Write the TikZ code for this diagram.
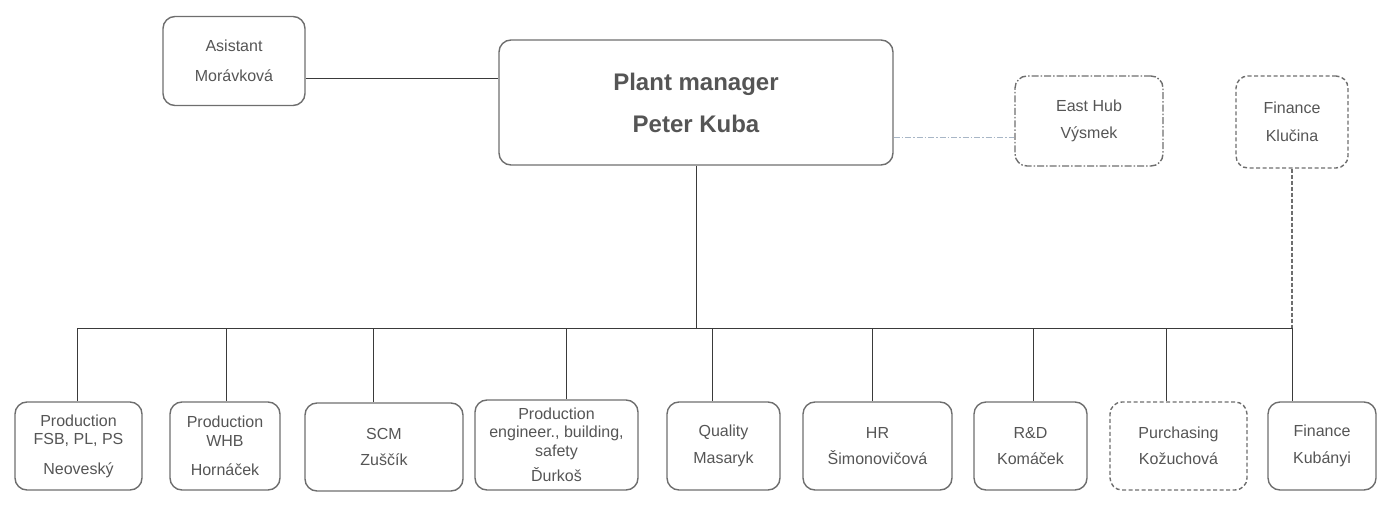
\documentclass[tikz,border=0pt]{standalone}
\usepackage{fontspec}
\setmainfont{Liberation Sans}
\usetikzlibrary{positioning}

\definecolor{boxgray}{HTML}{6E6E6E}
\definecolor{textgray}{HTML}{555555}
\definecolor{linegray}{HTML}{3A3A3A}
\definecolor{hubline}{HTML}{A8B6C6}

\begin{document}
\begin{tikzpicture}[
    x=1pt, y=-1pt,
    unit/.style={rectangle, draw=boxgray, line width=1.4pt, rounded corners=12pt,
        text=textgray, align=center, inner sep=0pt,
        font=\fontsize{16}{18.5}\selectfont},
    dashunit/.style={unit, dash pattern=on 4pt off 2.5pt},
    hubunit/.style={unit, dash pattern=on 7pt off 2pt on 1.5pt off 2pt},
    link/.style={draw=linegray, line width=1pt}
]
    \useasboundingbox (0,0) rectangle (1378,505);

    % Top level --------------------------------------------------

    \node[unit, minimum width=142pt, minimum height=89pt] (asst) at (234,61)
        {Asistant\\[11pt]Morávková};
    \node[unit, minimum width=394pt, minimum height=125pt,
        font=\fontsize{24}{28}\selectfont\bfseries] (pm) at (696,102.5)
        {Plant manager\\[14pt]Peter Kuba};
    \node[hubunit, minimum width=148pt, minimum height=90pt] (hub) at (1089,121)
        {East Hub\\[9pt]Výsmek};
    \node[dashunit, minimum width=112pt, minimum height=92pt] (fink) at (1292,122)
        {Finance\\[9pt]Klučina};

    % Departments ------------------------------------------------

    \node[unit, minimum width=127pt, minimum height=88pt] (prodfsb) at (78.5,446)
        {Production\\FSB, PL, PS\\[11pt]Neoveský};
    \node[unit, minimum width=110pt, minimum height=88pt] (prodwhb) at (225,446)
        {Production\\WHB\\[11pt]Hornáček};
    \node[unit, minimum width=158pt, minimum height=88pt] (scm) at (384,447)
        {SCM\\[8pt]Zuščík};
    \node[unit, minimum width=163pt, minimum height=90pt] (proding) at (556.5,445)
        {Production\\engineer., building,\\safety\\[7pt]Ďurkoš};
    \node[unit, minimum width=113pt, minimum height=88pt] (quality) at (723.5,446)
        {Quality\\[8pt]Masaryk};
    \node[unit, minimum width=149pt, minimum height=88pt] (hr) at (877.5,446)
        {HR\\[8pt]Šimonovičová};
    \node[unit, minimum width=113pt, minimum height=88pt] (rnd) at (1030.5,446)
        {R\&D\\[8pt]Komáček};
    \node[dashunit, minimum width=137pt, minimum height=88pt] (purch) at (1178.5,446)
        {Purchasing\\[8pt]Kožuchová};
    \node[unit, minimum width=108pt, minimum height=88pt] (finkub) at (1322,446)
        {Finance\\[8pt]Kubányi};

    % Bus --------------------------------------------------------

    \coordinate (t1) at (77,328);
    \coordinate (t2) at (226,328);
    \coordinate (t3) at (373,328);
    \coordinate (t4) at (566,328);
    \coordinate (t5) at (712,328);
    \coordinate (t6) at (872,328);
    \coordinate (t7) at (1033,328);
    \coordinate (t8) at (1166,328);
    \coordinate (t9) at (1292,328);

    % Connectors -------------------------------------------------

    \draw[link] ([yshift=-17.5pt]asst.east) -- ([yshift=-17.5pt]asst.east -| pm.west);
    \draw[draw=hubline, line width=1pt, dash pattern=on 6pt off 2pt on 1.5pt off 2pt]
        ([yshift=-35.5pt]pm.east) -- ([yshift=-35.5pt]pm.east -| hub.west);
    \draw[link] (t1) -- (t9);
    \draw[link] (pm.south) -- (pm.south |- t1);
    \draw[draw=boxgray, line width=1.2pt, dash pattern=on 4pt off 2pt] (fink.south) -- (t9);
    \draw[link] (t1) -- (t1 |- prodfsb.north);
    \draw[link] (t2) -- (t2 |- prodwhb.north);
    \draw[link] (t3) -- (t3 |- scm.north);
    \draw[link] (t4) -- (t4 |- proding.north);
    \draw[link] (t5) -- (t5 |- quality.north);
    \draw[link] (t6) -- (t6 |- hr.north);
    \draw[link] (t7) -- (t7 |- rnd.north);
    \draw[link] (t8) -- (t8 |- purch.north);
    \draw[link] (t9) -- (t9 |- finkub.north);

\end{tikzpicture}
\end{document}
